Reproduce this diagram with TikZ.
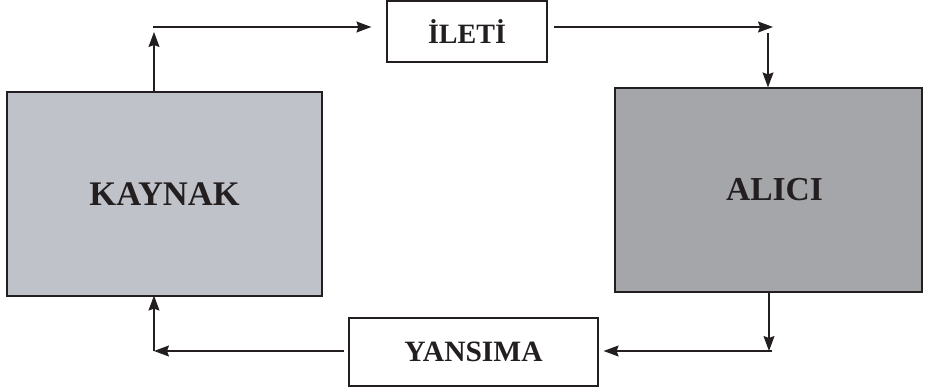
\documentclass[tikz,border=0pt]{standalone}
\usepackage{fontspec}
\setmainfont{Liberation Serif}
\usetikzlibrary{arrows.meta,calc}
\definecolor{txt}{HTML}{231F20}
\definecolor{kfill}{HTML}{C0C2C9}
\definecolor{afill}{HTML}{A5A6AA}
\tikzset{
  box/.style={draw=txt,line width=1.2pt,inner sep=0pt,text=txt,font=\bfseries},
  arr/.style={draw=txt,line width=1.2pt,-{Stealth[length=15pt,width=11pt,inset=2pt]}},
  ln/.style={draw=txt,line width=1.2pt}
}
\begin{document}
\begin{tikzpicture}[x=1pt,y=-1pt]
\useasboundingbox (0,0) rectangle (927,388);
\node[box,fill=kfill,minimum width=315pt,minimum height=204pt,font=\bfseries\fontsize{34.5}{40}\selectfont] (kaynak) at (164.5,194) {KAYNAK};
\node[box,fill=afill,minimum width=307pt,minimum height=204pt,font=\bfseries\fontsize{33.5}{40}\selectfont] (alici) at (768.5,190) {\hspace*{12pt}ALICI};
\node[box,fill=white,minimum width=160pt,minimum height=61pt,font=\bfseries\fontsize{28}{32}\selectfont] (ileti) at (467,31.5) {İLETİ};
\node[box,fill=white,minimum width=249pt,minimum height=68pt,font=\bfseries\fontsize{29.5}{34}\selectfont] (yansima) at (473.5,352) {YANSIMA};
\coordinate (c1) at (154,27);
\coordinate (c2) at (768,27);
\coordinate (c3) at (769,351);
\coordinate (c4) at (154,351);
% KAYNAK -> ILETI
\draw[arr,shorten >=5pt] (kaynak.north -| c1) -- (c1);
\draw[arr,shorten >=15pt] ([xshift=-1pt]c1) -- (ileti.west |- c1);
% ILETI -> ALICI
\draw[arr,shorten <=6pt,shorten >=-5pt] (ileti.east |- c2) -- (c2);
\draw[arr,shorten <=6pt] (c2) -- (alici.north -| c2);
% ALICI -> YANSIMA
\draw[arr] (alici.south -| c3) -- (c3);
\draw[arr,shorten <=-3pt,shorten >=5pt] (c3) -- (yansima.east |- c3);
% YANSIMA -> KAYNAK
\draw[arr,shorten <=4pt] (yansima.west |- c4) -- (c4);
\draw[arr,shorten >=-1pt] (c4) -- (kaynak.south -| c4);
\end{tikzpicture}
\end{document}
